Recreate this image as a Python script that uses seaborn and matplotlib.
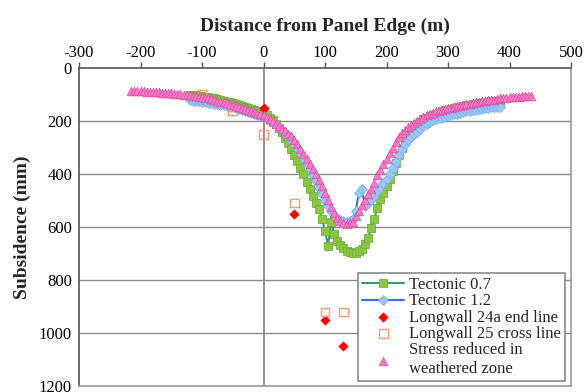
import matplotlib
matplotlib.use("Agg")
import matplotlib.pyplot as plt
import seaborn as sns
import pandas as pd

# ---------------- data ----------------
# Tectonic 0.7
green_x = list(range(-120, 390, 5))
green_y = [100, 101, 103, 104, 106, 108, 110, 113, 115, 118, 121, 124, 127, 130, 133, 137, 140, 144, 147, 151,
           155, 159, 163, 167, 172, 179, 188, 198, 210, 225, 243, 263, 283, 305, 328, 352, 376, 400, 430, 458,
           483, 508, 532, 570, 615, 670, 580, 628, 653, 668, 680, 689, 695, 698, 697, 692, 682, 664, 640, 605,
           568, 530, 495, 470, 445, 418, 390, 360, 330, 300, 275, 255, 238, 224, 212, 202, 194, 187, 181, 176,
           172, 168, 164, 160, 157, 154, 151, 148, 146, 143, 141, 139, 137, 135, 133, 131, 129, 128, 126, 125,
           124, 123]

# Tectonic 1.2
blue_x = list(range(-120, 390, 5))
blue_y = [122, 123, 124, 126, 128, 129, 131, 133, 135, 137, 139, 141, 143, 146, 149, 152, 155, 158, 161, 165,
          169, 173, 177, 181, 186, 192, 199, 207, 215, 224, 234, 245, 257, 271, 286, 303, 321, 340, 360, 381,
          404, 428, 452, 476, 500, 522, 540, 556, 567, 574, 578, 580, 578, 570, 540, 470, 458, 522, 510, 497,
          482, 466, 450, 433, 417, 400, 378, 355, 330, 305, 285, 272, 260, 250, 240, 230, 220, 211, 203, 198,
          194, 190, 187, 184, 181, 178, 175, 172, 169, 166, 164, 162, 160, 158, 156, 154, 152, 150, 149, 148,
          147, 146]

# Longwall 24a end line
red_x = [0, 50, 100, 130]
red_y = [150, 550, 950, 1050]

# Longwall 25 cross line
orange_x = [-100, -50, 0, 50, 100, 130]
orange_y = [100, 160, 250, 510, 920, 920]

# Stress reduced in weathered zone
pink_x = list(range(-215, 440, 5))
pink_y = [85, 86, 87, 88, 88, 89, 90, 91, 91, 92, 93, 94, 95, 96, 97, 98, 99, 100, 101, 103,
          104, 106, 108, 110, 112, 115, 118, 121, 124, 127, 130, 133, 136, 140, 143, 147, 150, 154, 158, 162,
          166, 170, 174, 178, 185, 193, 201, 210, 220, 229, 238, 248, 258, 270, 287, 305, 323, 342, 361, 380,
          400, 423, 447, 472, 498, 525, 548, 565, 577, 585, 588, 586, 580, 560, 538, 517, 497, 476, 455, 433,
          405, 383, 363, 343, 322, 300, 280, 262, 247, 234, 224, 215, 207, 200, 193, 186, 179, 173, 168, 164,
          161, 158, 155, 152, 150, 147, 145, 142, 140, 137, 135, 132, 130, 128, 126, 124, 122, 120, 119, 117,
          115, 114, 112, 111, 110, 109, 108, 107, 106, 105, 104]

labels = ["Tectonic 0.7", "Tectonic 1.2", "Longwall 24a end line",
          "Longwall 25 cross line", "Stress reduced in\nweathered zone"]

x_ticks = [-300, -200, -100, 0, 100, 200, 300, 400, 500]
y_ticks = [0, 200, 400, 600, 800, 1000, 1200]

# ---------------- plot ----------------
sns.set_style("white")
plt.rcParams['font.family'] = ['Liberation Serif', 'DejaVu Serif']
plt.rcParams['axes.unicode_minus'] = False

fig = plt.figure(figsize=(5.84, 3.92), dpi=100)
ax = fig.add_axes([0.1353, 0.0153, 0.8425, 0.8112])

for yv in y_ticks[1:]:
    ax.axhline(yv, color="#8a8a8a", lw=1.0, zorder=0)
ax.axvline(0, color="#8a8a8a", lw=1.3, zorder=0)

df_g = pd.DataFrame({"x": green_x, "y": green_y})
df_b = pd.DataFrame({"x": blue_x, "y": blue_y})
sns.lineplot(data=df_g, x="x", y="y", ax=ax, sort=False, estimator=None,
             color="#3a9a6a", lw=1.5, marker="s", markersize=5.2,
             markerfacecolor="#8cc63f", markeredgecolor="#6db33f", markeredgewidth=0.6,
             label=labels[0], zorder=2)
sns.lineplot(data=df_b, x="x", y="y", ax=ax, sort=False, estimator=None,
             color="#3d6cf0", lw=1.5, marker="D", markersize=5.2,
             markerfacecolor="#9cc8f8", markeredgecolor="#7fb0f0", markeredgewidth=0.6,
             label=labels[1], zorder=3)
sns.scatterplot(x=red_x, y=red_y, ax=ax, marker="D", s=22, color="#ff0000",
                edgecolor="#ff0000", linewidth=0.5, label=labels[2], zorder=4)
sns.scatterplot(x=orange_x, y=orange_y, ax=ax, marker="s", s=38, facecolor="none",
                edgecolor="#ff9a66", linewidth=1.0, label=labels[3], zorder=4)
sns.scatterplot(x=pink_x, y=pink_y, ax=ax, marker="^", s=38, color="#f27ac6",
                edgecolor="#e0489f", linewidth=0.5, label=labels[4], zorder=5)

ax.set_xlim(-300, 500)
ax.set_ylim(1200, 0)
ax.xaxis.tick_top()
ax.xaxis.set_label_position("top")
ax.set_xticks(x_ticks)
ax.set_yticks(y_ticks)
ax.tick_params(axis="both", direction="out", length=4, width=1, colors="#555555",
               labelcolor="black", labelsize=12, pad=1)
ax.set_xlabel("Distance from Panel Edge (m)", fontsize=14, fontweight="bold", labelpad=10)
ax.set_ylabel("Subsidence (mm)", fontsize=14, fontweight="bold", labelpad=6)

for side in ["top", "left"]:
    ax.spines[side].set_color("#555555")
    ax.spines[side].set_linewidth(1.2)
for side in ["right", "bottom"]:
    ax.spines[side].set_color("#9a9a9a")
    ax.spines[side].set_linewidth(1.2)

leg = ax.legend(loc="lower right", bbox_to_anchor=(0.988, 0.016), fontsize=12,
                frameon=True, fancybox=False, edgecolor="#8a8a8a", framealpha=1,
                borderpad=0.25, labelspacing=0.02, handlelength=2.5, handletextpad=0.3,
                borderaxespad=0.0)
leg.get_frame().set_linewidth(1.2)

fig.savefig("out.png", dpi=100)
